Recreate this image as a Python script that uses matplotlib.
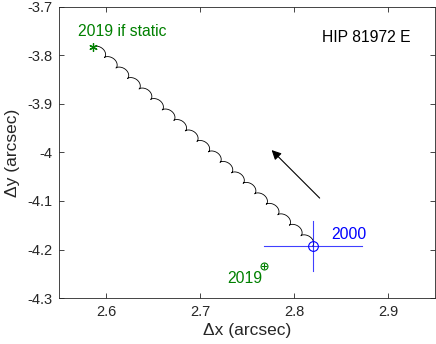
import numpy as np
import matplotlib
matplotlib.use("Agg")
import matplotlib.pyplot as plt

plt.rcParams["font.family"] = ["Liberation Sans", "DejaVu Sans"]
plt.rcParams["axes.unicode_minus"] = False

# positions (arcsec)
pos_2000 = [2.820, -4.193]
err_2000 = [0.052, 0.052]
pos_2019 = [2.768, -4.233]
pos_2019_static = [2.586, -3.7825]

# parallax ellipse of the track (arcsec) and its phase at start (deg)
parallax_axes = [0.0031, 0.0052]
phase_start = 250.0
years_span = 18.9

arrow_tail = [2.8274, -4.094]
arrow_head = [2.7763, -3.995]

xticks = [2.6, 2.7, 2.8, 2.9]
yticks = [-4.3, -4.2, -4.1, -4.0, -3.9, -3.8, -3.7]
ytick_labels = ["-4.3", "-4.2", "-4.1", "-4", "-3.9", "-3.8", "-3.7"]

green = "#008000"
dark = "#262626"


def parallax(t):
    th = np.deg2rad(phase_start) + 2 * np.pi * t
    return parallax_axes[0] * np.cos(th), parallax_axes[1] * np.sin(th)


t = np.linspace(0, years_span, 4000)
px, py = parallax(t)
px0, py0 = parallax(0.0)
pxe, pye = parallax(years_span)
mux = (pos_2019_static[0] - pos_2000[0] - (pxe - px0)) / years_span
muy = (pos_2019_static[1] - pos_2000[1] - (pye - py0)) / years_span
track_x = pos_2000[0] + mux * t + (px - px0)
track_y = pos_2000[1] + muy * t + (py - py0)

fig = plt.figure(figsize=(4.36, 3.44), dpi=100)
ax = fig.add_axes([0.1353, 0.1337, 0.8621, 0.846])

ax.plot(track_x, track_y, color="black", lw=0.6)

ax.plot([pos_2000[0] - err_2000[0], pos_2000[0] + err_2000[0]],
        [pos_2000[1], pos_2000[1]], color="blue", lw=0.8, alpha=0.75)
ax.plot([pos_2000[0], pos_2000[0]],
        [pos_2000[1] - err_2000[1], pos_2000[1] + err_2000[1]], color="blue", lw=0.8, alpha=0.75)
ax.plot(pos_2000[0], pos_2000[1], "o", mfc="none", mec="blue", ms=7, mew=0.8)

ax.plot(pos_2019[0], pos_2019[1], "o", mfc="none", mec=green, ms=5, mew=0.8)
ax.plot(pos_2019[0], pos_2019[1], "+", color=green, ms=5, mew=0.8)
ax.plot(pos_2019_static[0], pos_2019_static[1], marker=(6, 2, 0), color=green, ms=6, mew=0.9)

ax.annotate("", xy=arrow_head, xytext=arrow_tail,
            arrowprops=dict(arrowstyle="-|>", color="black", lw=0.8,
                            mutation_scale=14, shrinkA=0, shrinkB=0))

ax.text(2.6175, -3.751, "2019 if static", color=green, fontsize=11.3, ha="center", va="center")
ax.text(2.877, -3.762, "HIP 81972 E", color="black", fontsize=11.3, ha="center", va="center")
ax.text(2.858, -4.170, "2000", color="blue", fontsize=11.3, ha="center", va="center")
ax.text(2.748, -4.259, "2019", color=green, fontsize=11.3, ha="center", va="center")

ax.set_xlim(2.55, 2.95)
ax.set_ylim(-4.3, -3.7)
ax.set_xticks(xticks)
ax.set_yticks(yticks)
ax.set_yticklabels(ytick_labels)
ax.tick_params(direction="in", length=3.5, width=0.6, top=True, right=True,
               labelsize=10.5, colors=dark, pad=5)
for s in ax.spines.values():
    s.set_color(dark)
    s.set_linewidth(0.6)
ax.set_xlabel("\u0394x (arcsec)", fontsize=12.5, color=dark, labelpad=3)
ax.set_ylabel("\u0394y (arcsec)", fontsize=12.5, color=dark, labelpad=5)

fig.savefig("out.png", dpi=100)
